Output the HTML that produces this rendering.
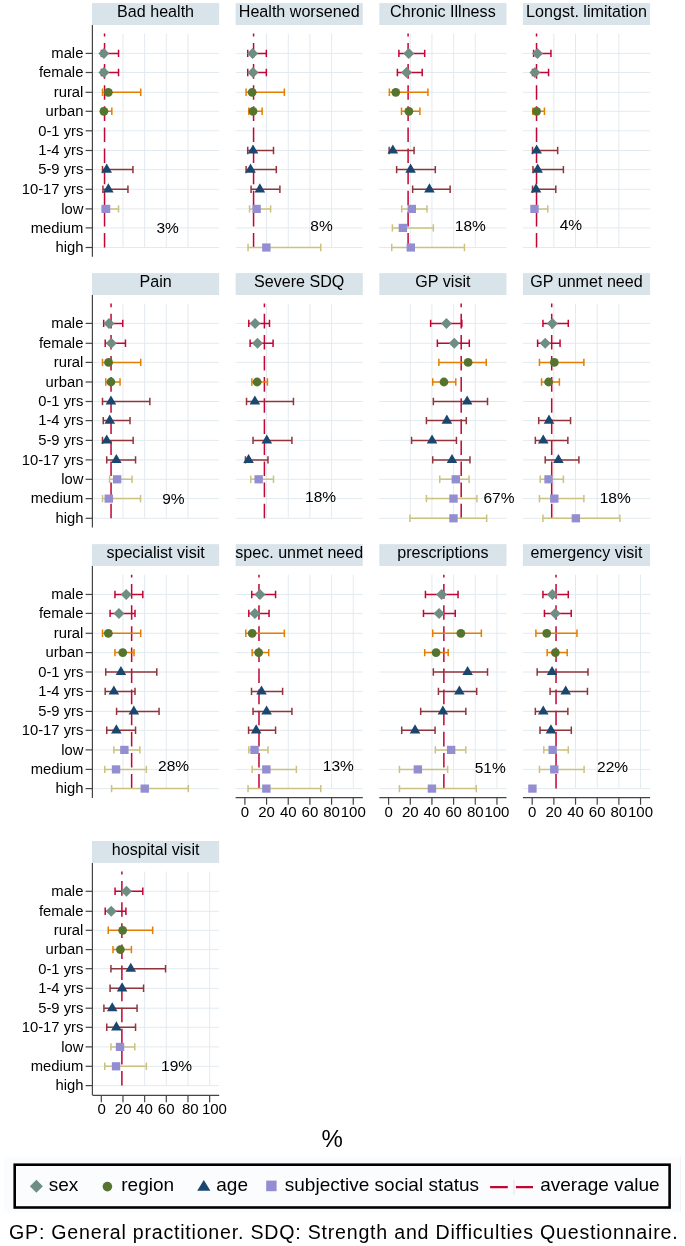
<!DOCTYPE html>
<html><head><meta charset="utf-8"><title>Chart</title>
<style>html,body{margin:0;padding:0;background:#fff;}svg{display:block;will-change:transform;}text{font-family:"Liberation Sans",sans-serif;fill:#000;}</style>
</head><body>
<svg width="685" height="1246" viewBox="0 0 685 1246">
<rect width="685" height="1246" fill="#fff"/>
<rect x="92" y="3.1" width="127.2" height="21.9" fill="#d9e4ea"/>
<text x="155.6" y="17.4" font-size="17.1" text-anchor="middle" textLength="76.99" lengthAdjust="spacingAndGlyphs">Bad health</text>
<line x1="92" y1="53.4" x2="219.2" y2="53.4" stroke="#e3eaef" stroke-width="1"/>
<line x1="92" y1="72.5" x2="219.2" y2="72.5" stroke="#e3eaef" stroke-width="1"/>
<line x1="92" y1="92.3" x2="219.2" y2="92.3" stroke="#e3eaef" stroke-width="1"/>
<line x1="92" y1="111.3" x2="219.2" y2="111.3" stroke="#e3eaef" stroke-width="1"/>
<line x1="92" y1="130.8" x2="219.2" y2="130.8" stroke="#e3eaef" stroke-width="1"/>
<line x1="92" y1="150.5" x2="219.2" y2="150.5" stroke="#e3eaef" stroke-width="1"/>
<line x1="92" y1="169.6" x2="219.2" y2="169.6" stroke="#e3eaef" stroke-width="1"/>
<line x1="92" y1="189.3" x2="219.2" y2="189.3" stroke="#e3eaef" stroke-width="1"/>
<line x1="92" y1="208.9" x2="219.2" y2="208.9" stroke="#e3eaef" stroke-width="1"/>
<line x1="92" y1="227.9" x2="219.2" y2="227.9" stroke="#e3eaef" stroke-width="1"/>
<line x1="92" y1="247.5" x2="219.2" y2="247.5" stroke="#e3eaef" stroke-width="1"/>
<line x1="122.97" y1="33.6" x2="122.97" y2="247.5" stroke="#e3eaef" stroke-width="1"/>
<line x1="144.64" y1="33.6" x2="144.64" y2="247.5" stroke="#e3eaef" stroke-width="1"/>
<line x1="166.31" y1="33.6" x2="166.31" y2="247.5" stroke="#e3eaef" stroke-width="1"/>
<line x1="187.98" y1="33.6" x2="187.98" y2="247.5" stroke="#e3eaef" stroke-width="1"/>
<line x1="104.55" y1="247.5" x2="104.55" y2="33.6" stroke="#c10534" stroke-width="1.5" stroke-dasharray="14.6 6.5"/>
<path d="M101.41 53.4H118.53M101.41 49.7V57.1M118.53 49.7V57.1" stroke="#c10534" stroke-width="1.5" fill="none"/>
<path d="M101.41 72.5H118.53M101.41 68.8V76.2M118.53 68.8V76.2" stroke="#c10534" stroke-width="1.5" fill="none"/>
<path d="M102.49 92.3H140.74M102.49 88.6V96M140.74 88.6V96" stroke="#e37e00" stroke-width="1.5" fill="none"/>
<path d="M101.84 111.3H111.81M101.84 107.6V115M111.81 107.6V115" stroke="#e37e00" stroke-width="1.5" fill="none"/>
<path d="M102.49 169.6H132.94M102.49 165.9V173.3M132.94 165.9V173.3" stroke="#90353b" stroke-width="1.5" fill="none"/>
<path d="M102.93 189.3H127.95M102.93 185.6V193M127.95 185.6V193" stroke="#90353b" stroke-width="1.5" fill="none"/>
<path d="M101.84 208.9H118.53M101.84 205.2V212.6M118.53 205.2V212.6" stroke="#cac27e" stroke-width="1.5" fill="none"/>
<path d="M103.9 47.9L109.4 53.4L103.9 58.9L98.4 53.4Z" fill="#6e8e84"/>
<path d="M103.9 67L109.4 72.5L103.9 78L98.4 72.5Z" fill="#6e8e84"/>
<circle cx="108.34" cy="92.3" r="4.4" fill="#55752f"/>
<circle cx="103.9" cy="111.3" r="4.4" fill="#55752f"/>
<path d="M106.72 163.6L112.02 172.7L101.42 172.7Z" fill="#1a476f"/>
<path d="M108.34 183.3L113.64 192.4L103.04 192.4Z" fill="#1a476f"/>
<rect x="101.87" y="204.8" width="8.4" height="8.2" fill="#938dd2"/>
<text x="156.51" y="232.65" font-size="15.4" textLength="22.4" lengthAdjust="spacingAndGlyphs">3%</text>
<line x1="92.4" y1="25" x2="92.4" y2="256.8" stroke="#444" stroke-width="1.2"/>
<line x1="85.6" y1="53.4" x2="92.4" y2="53.4" stroke="#444" stroke-width="1.2"/>
<text x="83.4" y="58.25" font-size="15.4" text-anchor="end" textLength="32.08" lengthAdjust="spacingAndGlyphs">male</text>
<line x1="85.6" y1="72.5" x2="92.4" y2="72.5" stroke="#444" stroke-width="1.2"/>
<text x="83.4" y="77.35" font-size="15.4" text-anchor="end" textLength="44.42" lengthAdjust="spacingAndGlyphs">female</text>
<line x1="85.6" y1="92.3" x2="92.4" y2="92.3" stroke="#444" stroke-width="1.2"/>
<text x="83.4" y="97.15" font-size="15.4" text-anchor="end" textLength="29.61" lengthAdjust="spacingAndGlyphs">rural</text>
<line x1="85.6" y1="111.3" x2="92.4" y2="111.3" stroke="#444" stroke-width="1.2"/>
<text x="83.4" y="116.15" font-size="15.4" text-anchor="end" textLength="37.85" lengthAdjust="spacingAndGlyphs">urban</text>
<line x1="85.6" y1="130.8" x2="92.4" y2="130.8" stroke="#444" stroke-width="1.2"/>
<text x="83.4" y="135.65" font-size="15.4" text-anchor="end" textLength="45.23" lengthAdjust="spacingAndGlyphs">0-1 yrs</text>
<line x1="85.6" y1="150.5" x2="92.4" y2="150.5" stroke="#444" stroke-width="1.2"/>
<text x="83.4" y="155.35" font-size="15.4" text-anchor="end" textLength="45.23" lengthAdjust="spacingAndGlyphs">1-4 yrs</text>
<line x1="85.6" y1="169.6" x2="92.4" y2="169.6" stroke="#444" stroke-width="1.2"/>
<text x="83.4" y="174.45" font-size="15.4" text-anchor="end" textLength="45.23" lengthAdjust="spacingAndGlyphs">5-9 yrs</text>
<line x1="85.6" y1="189.3" x2="92.4" y2="189.3" stroke="#444" stroke-width="1.2"/>
<text x="83.4" y="194.15" font-size="15.4" text-anchor="end" textLength="61.69" lengthAdjust="spacingAndGlyphs">10-17 yrs</text>
<line x1="85.6" y1="208.9" x2="92.4" y2="208.9" stroke="#444" stroke-width="1.2"/>
<text x="83.4" y="213.75" font-size="15.4" text-anchor="end" textLength="22.21" lengthAdjust="spacingAndGlyphs">low</text>
<line x1="85.6" y1="227.9" x2="92.4" y2="227.9" stroke="#444" stroke-width="1.2"/>
<text x="83.4" y="232.75" font-size="15.4" text-anchor="end" textLength="52.64" lengthAdjust="spacingAndGlyphs">medium</text>
<line x1="85.6" y1="247.5" x2="92.4" y2="247.5" stroke="#444" stroke-width="1.2"/>
<text x="83.4" y="252.35" font-size="15.4" text-anchor="end" textLength="27.98" lengthAdjust="spacingAndGlyphs">high</text>
<rect x="235.6" y="3.1" width="127.2" height="21.9" fill="#d9e4ea"/>
<text x="299.2" y="17.4" font-size="17.1" text-anchor="middle" textLength="120.82" lengthAdjust="spacingAndGlyphs">Health worsened</text>
<line x1="235.6" y1="53.4" x2="362.8" y2="53.4" stroke="#e3eaef" stroke-width="1"/>
<line x1="235.6" y1="72.5" x2="362.8" y2="72.5" stroke="#e3eaef" stroke-width="1"/>
<line x1="235.6" y1="92.3" x2="362.8" y2="92.3" stroke="#e3eaef" stroke-width="1"/>
<line x1="235.6" y1="111.3" x2="362.8" y2="111.3" stroke="#e3eaef" stroke-width="1"/>
<line x1="235.6" y1="130.8" x2="362.8" y2="130.8" stroke="#e3eaef" stroke-width="1"/>
<line x1="235.6" y1="150.5" x2="362.8" y2="150.5" stroke="#e3eaef" stroke-width="1"/>
<line x1="235.6" y1="169.6" x2="362.8" y2="169.6" stroke="#e3eaef" stroke-width="1"/>
<line x1="235.6" y1="189.3" x2="362.8" y2="189.3" stroke="#e3eaef" stroke-width="1"/>
<line x1="235.6" y1="208.9" x2="362.8" y2="208.9" stroke="#e3eaef" stroke-width="1"/>
<line x1="235.6" y1="227.9" x2="362.8" y2="227.9" stroke="#e3eaef" stroke-width="1"/>
<line x1="235.6" y1="247.5" x2="362.8" y2="247.5" stroke="#e3eaef" stroke-width="1"/>
<line x1="266.57" y1="33.6" x2="266.57" y2="247.5" stroke="#e3eaef" stroke-width="1"/>
<line x1="288.24" y1="33.6" x2="288.24" y2="247.5" stroke="#e3eaef" stroke-width="1"/>
<line x1="309.91" y1="33.6" x2="309.91" y2="247.5" stroke="#e3eaef" stroke-width="1"/>
<line x1="331.58" y1="33.6" x2="331.58" y2="247.5" stroke="#e3eaef" stroke-width="1"/>
<line x1="253.57" y1="247.5" x2="253.57" y2="33.6" stroke="#c10534" stroke-width="1.5" stroke-dasharray="14.6 6.5"/>
<path d="M247.72 53.4H266.35M247.72 49.7V57.1M266.35 49.7V57.1" stroke="#c10534" stroke-width="1.5" fill="none"/>
<path d="M247.72 72.5H266.35M247.72 68.8V76.2M266.35 68.8V76.2" stroke="#c10534" stroke-width="1.5" fill="none"/>
<path d="M246.09 92.3H284.34M246.09 88.6V96M284.34 88.6V96" stroke="#e37e00" stroke-width="1.5" fill="none"/>
<path d="M248.8 111.3H262.13M248.8 107.6V115M262.13 107.6V115" stroke="#e37e00" stroke-width="1.5" fill="none"/>
<path d="M247.72 150.5H273.5M247.72 146.8V154.2M273.5 146.8V154.2" stroke="#90353b" stroke-width="1.5" fill="none"/>
<path d="M246.09 169.6H276.32M246.09 165.9V173.3M276.32 165.9V173.3" stroke="#90353b" stroke-width="1.5" fill="none"/>
<path d="M251.08 189.3H279.9M251.08 185.6V193M279.9 185.6V193" stroke="#90353b" stroke-width="1.5" fill="none"/>
<path d="M249.56 208.9H270.58M249.56 205.2V212.6M270.58 205.2V212.6" stroke="#cac27e" stroke-width="1.5" fill="none"/>
<path d="M248.04 247.5H320.75M248.04 243.8V251.2M320.75 243.8V251.2" stroke="#cac27e" stroke-width="1.5" fill="none"/>
<path d="M252.59 47.9L258.09 53.4L252.59 58.9L247.09 53.4Z" fill="#6e8e84"/>
<path d="M253.03 67L258.53 72.5L253.03 78L247.53 72.5Z" fill="#6e8e84"/>
<circle cx="252.16" cy="92.3" r="4.4" fill="#55752f"/>
<circle cx="253.03" cy="111.3" r="4.4" fill="#55752f"/>
<path d="M253.03 144.5L258.33 153.6L247.73 153.6Z" fill="#1a476f"/>
<path d="M250.53 163.6L255.83 172.7L245.23 172.7Z" fill="#1a476f"/>
<path d="M259.85 183.3L265.15 192.4L254.55 192.4Z" fill="#1a476f"/>
<rect x="252.4" y="204.8" width="8.4" height="8.2" fill="#938dd2"/>
<rect x="262.15" y="243.4" width="8.4" height="8.2" fill="#938dd2"/>
<text x="310.34" y="230.75" font-size="15.4" textLength="22.4" lengthAdjust="spacingAndGlyphs">8%</text>
<rect x="379.3" y="3.1" width="127.2" height="21.9" fill="#d9e4ea"/>
<text x="442.9" y="17.4" font-size="17.1" text-anchor="middle" textLength="105.59" lengthAdjust="spacingAndGlyphs">Chronic Illness</text>
<line x1="379.3" y1="53.4" x2="506.5" y2="53.4" stroke="#e3eaef" stroke-width="1"/>
<line x1="379.3" y1="72.5" x2="506.5" y2="72.5" stroke="#e3eaef" stroke-width="1"/>
<line x1="379.3" y1="92.3" x2="506.5" y2="92.3" stroke="#e3eaef" stroke-width="1"/>
<line x1="379.3" y1="111.3" x2="506.5" y2="111.3" stroke="#e3eaef" stroke-width="1"/>
<line x1="379.3" y1="130.8" x2="506.5" y2="130.8" stroke="#e3eaef" stroke-width="1"/>
<line x1="379.3" y1="150.5" x2="506.5" y2="150.5" stroke="#e3eaef" stroke-width="1"/>
<line x1="379.3" y1="169.6" x2="506.5" y2="169.6" stroke="#e3eaef" stroke-width="1"/>
<line x1="379.3" y1="189.3" x2="506.5" y2="189.3" stroke="#e3eaef" stroke-width="1"/>
<line x1="379.3" y1="208.9" x2="506.5" y2="208.9" stroke="#e3eaef" stroke-width="1"/>
<line x1="379.3" y1="227.9" x2="506.5" y2="227.9" stroke="#e3eaef" stroke-width="1"/>
<line x1="379.3" y1="247.5" x2="506.5" y2="247.5" stroke="#e3eaef" stroke-width="1"/>
<line x1="410.27" y1="33.6" x2="410.27" y2="247.5" stroke="#e3eaef" stroke-width="1"/>
<line x1="431.94" y1="33.6" x2="431.94" y2="247.5" stroke="#e3eaef" stroke-width="1"/>
<line x1="453.61" y1="33.6" x2="453.61" y2="247.5" stroke="#e3eaef" stroke-width="1"/>
<line x1="475.28" y1="33.6" x2="475.28" y2="247.5" stroke="#e3eaef" stroke-width="1"/>
<line x1="408.1" y1="247.5" x2="408.1" y2="33.6" stroke="#c10534" stroke-width="1.5" stroke-dasharray="14.6 6.5"/>
<path d="M398.89 53.4H424.68M398.89 49.7V57.1M424.68 49.7V57.1" stroke="#c10534" stroke-width="1.5" fill="none"/>
<path d="M397.38 72.5H422.19M397.38 68.8V76.2M422.19 68.8V76.2" stroke="#c10534" stroke-width="1.5" fill="none"/>
<path d="M389.36 92.3H427.93M389.36 88.6V96M427.93 88.6V96" stroke="#e37e00" stroke-width="1.5" fill="none"/>
<path d="M401.49 111.3H419.91M401.49 107.6V115M419.91 107.6V115" stroke="#e37e00" stroke-width="1.5" fill="none"/>
<path d="M389.14 150.5H414.06M389.14 146.8V154.2M414.06 146.8V154.2" stroke="#90353b" stroke-width="1.5" fill="none"/>
<path d="M396.62 169.6H435.3M396.62 165.9V173.3M435.3 165.9V173.3" stroke="#90353b" stroke-width="1.5" fill="none"/>
<path d="M412.65 189.3H450.14M412.65 185.6V193M450.14 185.6V193" stroke="#90353b" stroke-width="1.5" fill="none"/>
<path d="M401.71 208.9H426.96M401.71 205.2V212.6M426.96 205.2V212.6" stroke="#cac27e" stroke-width="1.5" fill="none"/>
<path d="M392.39 227.9H433.35M392.39 224.2V231.6M433.35 224.2V231.6" stroke="#cac27e" stroke-width="1.5" fill="none"/>
<path d="M391.74 247.5H464.45M391.74 243.8V251.2M464.45 243.8V251.2" stroke="#cac27e" stroke-width="1.5" fill="none"/>
<path d="M408.75 47.9L414.25 53.4L408.75 58.9L403.25 53.4Z" fill="#6e8e84"/>
<path d="M406.48 67L411.98 72.5L406.48 78L400.98 72.5Z" fill="#6e8e84"/>
<circle cx="395.75" cy="92.3" r="4.4" fill="#55752f"/>
<circle cx="408.86" cy="111.3" r="4.4" fill="#55752f"/>
<path d="M392.83 144.5L398.13 153.6L387.53 153.6Z" fill="#1a476f"/>
<path d="M410.6 163.6L415.9 172.7L405.3 172.7Z" fill="#1a476f"/>
<path d="M429.45 183.3L434.75 192.4L424.15 192.4Z" fill="#1a476f"/>
<rect x="407.59" y="204.8" width="8.4" height="8.2" fill="#938dd2"/>
<rect x="398.7" y="223.8" width="8.4" height="8.2" fill="#938dd2"/>
<rect x="406.61" y="243.4" width="8.4" height="8.2" fill="#938dd2"/>
<text x="454.83" y="230.65" font-size="15.4" textLength="31.02" lengthAdjust="spacingAndGlyphs">18%</text>
<rect x="522.9" y="3.1" width="127.2" height="21.9" fill="#d9e4ea"/>
<text x="586.5" y="17.4" font-size="17.1" text-anchor="middle" textLength="120.81" lengthAdjust="spacingAndGlyphs">Longst. limitation</text>
<line x1="522.9" y1="53.4" x2="650.1" y2="53.4" stroke="#e3eaef" stroke-width="1"/>
<line x1="522.9" y1="72.5" x2="650.1" y2="72.5" stroke="#e3eaef" stroke-width="1"/>
<line x1="522.9" y1="92.3" x2="650.1" y2="92.3" stroke="#e3eaef" stroke-width="1"/>
<line x1="522.9" y1="111.3" x2="650.1" y2="111.3" stroke="#e3eaef" stroke-width="1"/>
<line x1="522.9" y1="130.8" x2="650.1" y2="130.8" stroke="#e3eaef" stroke-width="1"/>
<line x1="522.9" y1="150.5" x2="650.1" y2="150.5" stroke="#e3eaef" stroke-width="1"/>
<line x1="522.9" y1="169.6" x2="650.1" y2="169.6" stroke="#e3eaef" stroke-width="1"/>
<line x1="522.9" y1="189.3" x2="650.1" y2="189.3" stroke="#e3eaef" stroke-width="1"/>
<line x1="522.9" y1="208.9" x2="650.1" y2="208.9" stroke="#e3eaef" stroke-width="1"/>
<line x1="522.9" y1="227.9" x2="650.1" y2="227.9" stroke="#e3eaef" stroke-width="1"/>
<line x1="522.9" y1="247.5" x2="650.1" y2="247.5" stroke="#e3eaef" stroke-width="1"/>
<line x1="553.87" y1="33.6" x2="553.87" y2="247.5" stroke="#e3eaef" stroke-width="1"/>
<line x1="575.54" y1="33.6" x2="575.54" y2="247.5" stroke="#e3eaef" stroke-width="1"/>
<line x1="597.21" y1="33.6" x2="597.21" y2="247.5" stroke="#e3eaef" stroke-width="1"/>
<line x1="618.88" y1="33.6" x2="618.88" y2="247.5" stroke="#e3eaef" stroke-width="1"/>
<line x1="536.53" y1="247.5" x2="536.53" y2="33.6" stroke="#c10534" stroke-width="1.5" stroke-dasharray="14.6 6.5"/>
<path d="M533.61 53.4H550.94M533.61 49.7V57.1M550.94 49.7V57.1" stroke="#c10534" stroke-width="1.5" fill="none"/>
<path d="M532.53 72.5H548.56M532.53 68.8V76.2M548.56 68.8V76.2" stroke="#c10534" stroke-width="1.5" fill="none"/>
<path d="M532.74 111.3H544.44M532.74 107.6V115M544.44 107.6V115" stroke="#e37e00" stroke-width="1.5" fill="none"/>
<path d="M532.53 150.5H557.66M532.53 146.8V154.2M557.66 146.8V154.2" stroke="#90353b" stroke-width="1.5" fill="none"/>
<path d="M532.96 169.6H563.4M532.96 165.9V173.3M563.4 165.9V173.3" stroke="#90353b" stroke-width="1.5" fill="none"/>
<path d="M532.53 189.3H555.82M532.53 185.6V193M555.82 185.6V193" stroke="#90353b" stroke-width="1.5" fill="none"/>
<path d="M532.42 208.9H547.8M532.42 205.2V212.6M547.8 205.2V212.6" stroke="#cac27e" stroke-width="1.5" fill="none"/>
<path d="M537.51 47.9L543.01 53.4L537.51 58.9L532.01 53.4Z" fill="#6e8e84"/>
<path d="M534.91 67L540.41 72.5L534.91 78L529.41 72.5Z" fill="#6e8e84"/>
<circle cx="536.64" cy="111.3" r="4.4" fill="#55752f"/>
<path d="M536.64 144.5L541.94 153.6L531.34 153.6Z" fill="#1a476f"/>
<path d="M537.62 163.6L542.92 172.7L532.32 172.7Z" fill="#1a476f"/>
<path d="M535.99 183.3L541.29 192.4L530.69 192.4Z" fill="#1a476f"/>
<rect x="530.28" y="204.8" width="8.4" height="8.2" fill="#938dd2"/>
<text x="559.65" y="230.15" font-size="15.4" textLength="22.4" lengthAdjust="spacingAndGlyphs">4%</text>
<rect x="92" y="273.1" width="127.2" height="21.9" fill="#d9e4ea"/>
<text x="155.6" y="287.4" font-size="17.1" text-anchor="middle" textLength="32.22" lengthAdjust="spacingAndGlyphs">Pain</text>
<line x1="92" y1="323.4" x2="219.2" y2="323.4" stroke="#e3eaef" stroke-width="1"/>
<line x1="92" y1="343.3" x2="219.2" y2="343.3" stroke="#e3eaef" stroke-width="1"/>
<line x1="92" y1="362.4" x2="219.2" y2="362.4" stroke="#e3eaef" stroke-width="1"/>
<line x1="92" y1="382" x2="219.2" y2="382" stroke="#e3eaef" stroke-width="1"/>
<line x1="92" y1="401.5" x2="219.2" y2="401.5" stroke="#e3eaef" stroke-width="1"/>
<line x1="92" y1="420.6" x2="219.2" y2="420.6" stroke="#e3eaef" stroke-width="1"/>
<line x1="92" y1="440.4" x2="219.2" y2="440.4" stroke="#e3eaef" stroke-width="1"/>
<line x1="92" y1="459.9" x2="219.2" y2="459.9" stroke="#e3eaef" stroke-width="1"/>
<line x1="92" y1="479.3" x2="219.2" y2="479.3" stroke="#e3eaef" stroke-width="1"/>
<line x1="92" y1="498.6" x2="219.2" y2="498.6" stroke="#e3eaef" stroke-width="1"/>
<line x1="92" y1="518.3" x2="219.2" y2="518.3" stroke="#e3eaef" stroke-width="1"/>
<line x1="122.97" y1="303.6" x2="122.97" y2="518.3" stroke="#e3eaef" stroke-width="1"/>
<line x1="144.64" y1="303.6" x2="144.64" y2="518.3" stroke="#e3eaef" stroke-width="1"/>
<line x1="166.31" y1="303.6" x2="166.31" y2="518.3" stroke="#e3eaef" stroke-width="1"/>
<line x1="187.98" y1="303.6" x2="187.98" y2="518.3" stroke="#e3eaef" stroke-width="1"/>
<line x1="111.05" y1="518.3" x2="111.05" y2="303.6" stroke="#c10534" stroke-width="1.5" stroke-dasharray="14.6 6.5"/>
<path d="M103.68 323.4H122.75M103.68 319.7V327.1M122.75 319.7V327.1" stroke="#c10534" stroke-width="1.5" fill="none"/>
<path d="M105.2 343.3H125.46M105.2 339.6V347M125.46 339.6V347" stroke="#c10534" stroke-width="1.5" fill="none"/>
<path d="M102.49 362.4H140.74M102.49 358.7V366.1M140.74 358.7V366.1" stroke="#e37e00" stroke-width="1.5" fill="none"/>
<path d="M105.74 382H120.04M105.74 378.3V385.7M120.04 378.3V385.7" stroke="#e37e00" stroke-width="1.5" fill="none"/>
<path d="M102.49 401.5H149.84M102.49 397.8V405.2M149.84 397.8V405.2" stroke="#90353b" stroke-width="1.5" fill="none"/>
<path d="M103.25 420.6H130.01M103.25 416.9V424.3M130.01 416.9V424.3" stroke="#90353b" stroke-width="1.5" fill="none"/>
<path d="M102.49 440.4H133.15M102.49 436.7V444.1M133.15 436.7V444.1" stroke="#90353b" stroke-width="1.5" fill="none"/>
<path d="M106.72 459.9H135.54M106.72 456.2V463.6M135.54 456.2V463.6" stroke="#90353b" stroke-width="1.5" fill="none"/>
<path d="M109.53 479.3H132.07M109.53 475.6V483M132.07 475.6V483" stroke="#cac27e" stroke-width="1.5" fill="none"/>
<path d="M102.49 498.6H140.52M102.49 494.9V502.3M140.52 494.9V502.3" stroke="#cac27e" stroke-width="1.5" fill="none"/>
<path d="M108.99 317.9L114.49 323.4L108.99 328.9L103.49 323.4Z" fill="#6e8e84"/>
<path d="M111.27 337.8L116.77 343.3L111.27 348.8L105.77 343.3Z" fill="#6e8e84"/>
<circle cx="108.56" cy="362.4" r="4.4" fill="#55752f"/>
<circle cx="110.94" cy="382" r="4.4" fill="#55752f"/>
<path d="M110.94 395.5L116.24 404.6L105.64 404.6Z" fill="#1a476f"/>
<path d="M109.75 414.6L115.05 423.7L104.45 423.7Z" fill="#1a476f"/>
<path d="M106.72 434.4L112.02 443.5L101.42 443.5Z" fill="#1a476f"/>
<path d="M116.36 453.9L121.66 463L111.06 463Z" fill="#1a476f"/>
<rect x="112.92" y="475.2" width="8.4" height="8.2" fill="#938dd2"/>
<rect x="104.58" y="494.5" width="8.4" height="8.2" fill="#938dd2"/>
<text x="162.18" y="503.85" font-size="15.4" textLength="22.4" lengthAdjust="spacingAndGlyphs">9%</text>
<line x1="92.4" y1="295" x2="92.4" y2="527.6" stroke="#444" stroke-width="1.2"/>
<line x1="85.6" y1="323.4" x2="92.4" y2="323.4" stroke="#444" stroke-width="1.2"/>
<text x="83.4" y="328.25" font-size="15.4" text-anchor="end" textLength="32.08" lengthAdjust="spacingAndGlyphs">male</text>
<line x1="85.6" y1="343.3" x2="92.4" y2="343.3" stroke="#444" stroke-width="1.2"/>
<text x="83.4" y="348.15" font-size="15.4" text-anchor="end" textLength="44.42" lengthAdjust="spacingAndGlyphs">female</text>
<line x1="85.6" y1="362.4" x2="92.4" y2="362.4" stroke="#444" stroke-width="1.2"/>
<text x="83.4" y="367.25" font-size="15.4" text-anchor="end" textLength="29.61" lengthAdjust="spacingAndGlyphs">rural</text>
<line x1="85.6" y1="382" x2="92.4" y2="382" stroke="#444" stroke-width="1.2"/>
<text x="83.4" y="386.85" font-size="15.4" text-anchor="end" textLength="37.85" lengthAdjust="spacingAndGlyphs">urban</text>
<line x1="85.6" y1="401.5" x2="92.4" y2="401.5" stroke="#444" stroke-width="1.2"/>
<text x="83.4" y="406.35" font-size="15.4" text-anchor="end" textLength="45.23" lengthAdjust="spacingAndGlyphs">0-1 yrs</text>
<line x1="85.6" y1="420.6" x2="92.4" y2="420.6" stroke="#444" stroke-width="1.2"/>
<text x="83.4" y="425.45" font-size="15.4" text-anchor="end" textLength="45.23" lengthAdjust="spacingAndGlyphs">1-4 yrs</text>
<line x1="85.6" y1="440.4" x2="92.4" y2="440.4" stroke="#444" stroke-width="1.2"/>
<text x="83.4" y="445.25" font-size="15.4" text-anchor="end" textLength="45.23" lengthAdjust="spacingAndGlyphs">5-9 yrs</text>
<line x1="85.6" y1="459.9" x2="92.4" y2="459.9" stroke="#444" stroke-width="1.2"/>
<text x="83.4" y="464.75" font-size="15.4" text-anchor="end" textLength="61.69" lengthAdjust="spacingAndGlyphs">10-17 yrs</text>
<line x1="85.6" y1="479.3" x2="92.4" y2="479.3" stroke="#444" stroke-width="1.2"/>
<text x="83.4" y="484.15" font-size="15.4" text-anchor="end" textLength="22.21" lengthAdjust="spacingAndGlyphs">low</text>
<line x1="85.6" y1="498.6" x2="92.4" y2="498.6" stroke="#444" stroke-width="1.2"/>
<text x="83.4" y="503.45" font-size="15.4" text-anchor="end" textLength="52.64" lengthAdjust="spacingAndGlyphs">medium</text>
<line x1="85.6" y1="518.3" x2="92.4" y2="518.3" stroke="#444" stroke-width="1.2"/>
<text x="83.4" y="523.15" font-size="15.4" text-anchor="end" textLength="27.98" lengthAdjust="spacingAndGlyphs">high</text>
<rect x="235.6" y="273.1" width="127.2" height="21.9" fill="#d9e4ea"/>
<text x="299.2" y="287.4" font-size="17.1" text-anchor="middle" textLength="90.37" lengthAdjust="spacingAndGlyphs">Severe SDQ</text>
<line x1="235.6" y1="323.4" x2="362.8" y2="323.4" stroke="#e3eaef" stroke-width="1"/>
<line x1="235.6" y1="343.3" x2="362.8" y2="343.3" stroke="#e3eaef" stroke-width="1"/>
<line x1="235.6" y1="362.4" x2="362.8" y2="362.4" stroke="#e3eaef" stroke-width="1"/>
<line x1="235.6" y1="382" x2="362.8" y2="382" stroke="#e3eaef" stroke-width="1"/>
<line x1="235.6" y1="401.5" x2="362.8" y2="401.5" stroke="#e3eaef" stroke-width="1"/>
<line x1="235.6" y1="420.6" x2="362.8" y2="420.6" stroke="#e3eaef" stroke-width="1"/>
<line x1="235.6" y1="440.4" x2="362.8" y2="440.4" stroke="#e3eaef" stroke-width="1"/>
<line x1="235.6" y1="459.9" x2="362.8" y2="459.9" stroke="#e3eaef" stroke-width="1"/>
<line x1="235.6" y1="479.3" x2="362.8" y2="479.3" stroke="#e3eaef" stroke-width="1"/>
<line x1="235.6" y1="498.6" x2="362.8" y2="498.6" stroke="#e3eaef" stroke-width="1"/>
<line x1="235.6" y1="518.3" x2="362.8" y2="518.3" stroke="#e3eaef" stroke-width="1"/>
<line x1="266.57" y1="303.6" x2="266.57" y2="518.3" stroke="#e3eaef" stroke-width="1"/>
<line x1="288.24" y1="303.6" x2="288.24" y2="518.3" stroke="#e3eaef" stroke-width="1"/>
<line x1="309.91" y1="303.6" x2="309.91" y2="518.3" stroke="#e3eaef" stroke-width="1"/>
<line x1="331.58" y1="303.6" x2="331.58" y2="518.3" stroke="#e3eaef" stroke-width="1"/>
<line x1="264.4" y1="518.3" x2="264.4" y2="303.6" stroke="#c10534" stroke-width="1.5" stroke-dasharray="14.6 6.5"/>
<path d="M248.8 323.4H269.5M248.8 319.7V327.1M269.5 319.7V327.1" stroke="#c10534" stroke-width="1.5" fill="none"/>
<path d="M250.1 343.3H273.07M250.1 339.6V347M273.07 339.6V347" stroke="#c10534" stroke-width="1.5" fill="none"/>
<path d="M251.83 382H267.44M251.83 378.3V385.7M267.44 378.3V385.7" stroke="#e37e00" stroke-width="1.5" fill="none"/>
<path d="M246.53 401.5H293.44M246.53 397.8V405.2M293.44 397.8V405.2" stroke="#90353b" stroke-width="1.5" fill="none"/>
<path d="M253.03 440.4H291.92M253.03 436.7V444.1M291.92 436.7V444.1" stroke="#90353b" stroke-width="1.5" fill="none"/>
<path d="M245.44 459.9H267.98M245.44 456.2V463.6M267.98 456.2V463.6" stroke="#90353b" stroke-width="1.5" fill="none"/>
<path d="M250.75 479.3H273.5M250.75 475.6V483M273.5 475.6V483" stroke="#cac27e" stroke-width="1.5" fill="none"/>
<path d="M255.08 317.9L260.58 323.4L255.08 328.9L249.58 323.4Z" fill="#6e8e84"/>
<path d="M257.47 337.8L262.97 343.3L257.47 348.8L251.97 343.3Z" fill="#6e8e84"/>
<circle cx="257.14" cy="382" r="4.4" fill="#55752f"/>
<path d="M254.87 395.5L260.17 404.6L249.57 404.6Z" fill="#1a476f"/>
<path d="M266.79 434.4L272.09 443.5L261.49 443.5Z" fill="#1a476f"/>
<path d="M248.58 453.9L253.88 463L243.28 463Z" fill="#1a476f"/>
<rect x="254.46" y="475.2" width="8.4" height="8.2" fill="#938dd2"/>
<text x="305.13" y="502.45" font-size="15.4" textLength="31.02" lengthAdjust="spacingAndGlyphs">18%</text>
<rect x="379.3" y="273.1" width="127.2" height="21.9" fill="#d9e4ea"/>
<text x="442.9" y="287.4" font-size="17.1" text-anchor="middle" textLength="55.17" lengthAdjust="spacingAndGlyphs">GP visit</text>
<line x1="379.3" y1="323.4" x2="506.5" y2="323.4" stroke="#e3eaef" stroke-width="1"/>
<line x1="379.3" y1="343.3" x2="506.5" y2="343.3" stroke="#e3eaef" stroke-width="1"/>
<line x1="379.3" y1="362.4" x2="506.5" y2="362.4" stroke="#e3eaef" stroke-width="1"/>
<line x1="379.3" y1="382" x2="506.5" y2="382" stroke="#e3eaef" stroke-width="1"/>
<line x1="379.3" y1="401.5" x2="506.5" y2="401.5" stroke="#e3eaef" stroke-width="1"/>
<line x1="379.3" y1="420.6" x2="506.5" y2="420.6" stroke="#e3eaef" stroke-width="1"/>
<line x1="379.3" y1="440.4" x2="506.5" y2="440.4" stroke="#e3eaef" stroke-width="1"/>
<line x1="379.3" y1="459.9" x2="506.5" y2="459.9" stroke="#e3eaef" stroke-width="1"/>
<line x1="379.3" y1="479.3" x2="506.5" y2="479.3" stroke="#e3eaef" stroke-width="1"/>
<line x1="379.3" y1="498.6" x2="506.5" y2="498.6" stroke="#e3eaef" stroke-width="1"/>
<line x1="379.3" y1="518.3" x2="506.5" y2="518.3" stroke="#e3eaef" stroke-width="1"/>
<line x1="410.27" y1="303.6" x2="410.27" y2="518.3" stroke="#e3eaef" stroke-width="1"/>
<line x1="431.94" y1="303.6" x2="431.94" y2="518.3" stroke="#e3eaef" stroke-width="1"/>
<line x1="453.61" y1="303.6" x2="453.61" y2="518.3" stroke="#e3eaef" stroke-width="1"/>
<line x1="475.28" y1="303.6" x2="475.28" y2="518.3" stroke="#e3eaef" stroke-width="1"/>
<line x1="461.19" y1="518.3" x2="461.19" y2="303.6" stroke="#c10534" stroke-width="1.5" stroke-dasharray="14.6 6.5"/>
<path d="M430.64 323.4H461.84M430.64 319.7V327.1M461.84 319.7V327.1" stroke="#c10534" stroke-width="1.5" fill="none"/>
<path d="M437.36 343.3H469.32M437.36 339.6V347M469.32 339.6V347" stroke="#c10534" stroke-width="1.5" fill="none"/>
<path d="M438.87 362.4H486.22M438.87 358.7V366.1M486.22 358.7V366.1" stroke="#e37e00" stroke-width="1.5" fill="none"/>
<path d="M432.7 382H455.78M432.7 378.3V385.7M455.78 378.3V385.7" stroke="#e37e00" stroke-width="1.5" fill="none"/>
<path d="M433.35 401.5H487.52M433.35 397.8V405.2M487.52 397.8V405.2" stroke="#90353b" stroke-width="1.5" fill="none"/>
<path d="M426.41 420.6H466.29M426.41 416.9V424.3M466.29 416.9V424.3" stroke="#90353b" stroke-width="1.5" fill="none"/>
<path d="M411.57 440.4H456.43M411.57 436.7V444.1M456.43 436.7V444.1" stroke="#90353b" stroke-width="1.5" fill="none"/>
<path d="M432.7 459.9H469.97M432.7 456.2V463.6M469.97 456.2V463.6" stroke="#90353b" stroke-width="1.5" fill="none"/>
<path d="M439.74 479.3H469.1M439.74 475.6V483M469.1 475.6V483" stroke="#cac27e" stroke-width="1.5" fill="none"/>
<path d="M426.41 498.6H476.91M426.41 494.9V502.3M476.91 494.9V502.3" stroke="#cac27e" stroke-width="1.5" fill="none"/>
<path d="M409.94 518.3H486.66M409.94 514.6V522M486.66 514.6V522" stroke="#cac27e" stroke-width="1.5" fill="none"/>
<path d="M446.46 317.9L451.96 323.4L446.46 328.9L440.96 323.4Z" fill="#6e8e84"/>
<path d="M454.26 337.8L459.76 343.3L454.26 348.8L448.76 343.3Z" fill="#6e8e84"/>
<circle cx="468.13" cy="362.4" r="4.4" fill="#55752f"/>
<circle cx="443.97" cy="382" r="4.4" fill="#55752f"/>
<path d="M467.15 395.5L472.45 404.6L461.85 404.6Z" fill="#1a476f"/>
<path d="M446.89 414.6L452.19 423.7L441.59 423.7Z" fill="#1a476f"/>
<path d="M432.05 434.4L437.35 443.5L426.75 443.5Z" fill="#1a476f"/>
<path d="M451.98 453.9L457.28 463L446.68 463Z" fill="#1a476f"/>
<rect x="451.58" y="475.2" width="8.4" height="8.2" fill="#938dd2"/>
<rect x="449.3" y="494.5" width="8.4" height="8.2" fill="#938dd2"/>
<rect x="449.3" y="514.2" width="8.4" height="8.2" fill="#938dd2"/>
<text x="483.41" y="502.75" font-size="15.4" textLength="31.02" lengthAdjust="spacingAndGlyphs">67%</text>
<rect x="522.9" y="273.1" width="127.2" height="21.9" fill="#d9e4ea"/>
<text x="586.5" y="287.4" font-size="17.1" text-anchor="middle" textLength="112.48" lengthAdjust="spacingAndGlyphs">GP unmet need</text>
<line x1="522.9" y1="323.4" x2="650.1" y2="323.4" stroke="#e3eaef" stroke-width="1"/>
<line x1="522.9" y1="343.3" x2="650.1" y2="343.3" stroke="#e3eaef" stroke-width="1"/>
<line x1="522.9" y1="362.4" x2="650.1" y2="362.4" stroke="#e3eaef" stroke-width="1"/>
<line x1="522.9" y1="382" x2="650.1" y2="382" stroke="#e3eaef" stroke-width="1"/>
<line x1="522.9" y1="401.5" x2="650.1" y2="401.5" stroke="#e3eaef" stroke-width="1"/>
<line x1="522.9" y1="420.6" x2="650.1" y2="420.6" stroke="#e3eaef" stroke-width="1"/>
<line x1="522.9" y1="440.4" x2="650.1" y2="440.4" stroke="#e3eaef" stroke-width="1"/>
<line x1="522.9" y1="459.9" x2="650.1" y2="459.9" stroke="#e3eaef" stroke-width="1"/>
<line x1="522.9" y1="479.3" x2="650.1" y2="479.3" stroke="#e3eaef" stroke-width="1"/>
<line x1="522.9" y1="498.6" x2="650.1" y2="498.6" stroke="#e3eaef" stroke-width="1"/>
<line x1="522.9" y1="518.3" x2="650.1" y2="518.3" stroke="#e3eaef" stroke-width="1"/>
<line x1="553.87" y1="303.6" x2="553.87" y2="518.3" stroke="#e3eaef" stroke-width="1"/>
<line x1="575.54" y1="303.6" x2="575.54" y2="518.3" stroke="#e3eaef" stroke-width="1"/>
<line x1="597.21" y1="303.6" x2="597.21" y2="518.3" stroke="#e3eaef" stroke-width="1"/>
<line x1="618.88" y1="303.6" x2="618.88" y2="518.3" stroke="#e3eaef" stroke-width="1"/>
<line x1="551.7" y1="518.3" x2="551.7" y2="303.6" stroke="#c10534" stroke-width="1.5" stroke-dasharray="14.6 6.5"/>
<path d="M542.93 323.4H568.28M542.93 319.7V327.1M568.28 319.7V327.1" stroke="#c10534" stroke-width="1.5" fill="none"/>
<path d="M537.62 343.3H560.05M537.62 339.6V347M560.05 339.6V347" stroke="#c10534" stroke-width="1.5" fill="none"/>
<path d="M539.46 362.4H583.88M539.46 358.7V366.1M583.88 358.7V366.1" stroke="#e37e00" stroke-width="1.5" fill="none"/>
<path d="M541.52 382H559.4M541.52 378.3V385.7M559.4 378.3V385.7" stroke="#e37e00" stroke-width="1.5" fill="none"/>
<path d="M538.7 420.6H570.56M538.7 416.9V424.3M570.56 416.9V424.3" stroke="#90353b" stroke-width="1.5" fill="none"/>
<path d="M535.34 440.4H567.85M535.34 436.7V444.1M567.85 436.7V444.1" stroke="#90353b" stroke-width="1.5" fill="none"/>
<path d="M545.2 459.9H578.9M545.2 456.2V463.6M578.9 456.2V463.6" stroke="#90353b" stroke-width="1.5" fill="none"/>
<path d="M540.22 479.3H563.4M540.22 475.6V483M563.4 475.6V483" stroke="#cac27e" stroke-width="1.5" fill="none"/>
<path d="M539.46 498.6H583.88M539.46 494.9V502.3M583.88 494.9V502.3" stroke="#cac27e" stroke-width="1.5" fill="none"/>
<path d="M542.93 518.3H619.86M542.93 514.6V522M619.86 514.6V522" stroke="#cac27e" stroke-width="1.5" fill="none"/>
<path d="M552.35 317.9L557.85 323.4L552.35 328.9L546.85 323.4Z" fill="#6e8e84"/>
<path d="M545.2 337.8L550.7 343.3L545.2 348.8L539.7 343.3Z" fill="#6e8e84"/>
<circle cx="554.3" cy="362.4" r="4.4" fill="#55752f"/>
<circle cx="548.56" cy="382" r="4.4" fill="#55752f"/>
<path d="M548.99 414.6L554.29 423.7L543.69 423.7Z" fill="#1a476f"/>
<path d="M543.25 434.4L548.55 443.5L537.95 443.5Z" fill="#1a476f"/>
<path d="M558.42 453.9L563.72 463L553.12 463Z" fill="#1a476f"/>
<rect x="544.36" y="475.2" width="8.4" height="8.2" fill="#938dd2"/>
<rect x="550.1" y="494.5" width="8.4" height="8.2" fill="#938dd2"/>
<rect x="571.67" y="514.2" width="8.4" height="8.2" fill="#938dd2"/>
<text x="599.73" y="503.05" font-size="15.4" textLength="31.02" lengthAdjust="spacingAndGlyphs">18%</text>
<rect x="92" y="544.15" width="127.2" height="21.9" fill="#d9e4ea"/>
<text x="155.6" y="558.45" font-size="17.1" text-anchor="middle" textLength="98.42" lengthAdjust="spacingAndGlyphs">specialist visit</text>
<line x1="92" y1="594.45" x2="219.2" y2="594.45" stroke="#e3eaef" stroke-width="1"/>
<line x1="92" y1="613.4" x2="219.2" y2="613.4" stroke="#e3eaef" stroke-width="1"/>
<line x1="92" y1="633.3" x2="219.2" y2="633.3" stroke="#e3eaef" stroke-width="1"/>
<line x1="92" y1="652.6" x2="219.2" y2="652.6" stroke="#e3eaef" stroke-width="1"/>
<line x1="92" y1="672" x2="219.2" y2="672" stroke="#e3eaef" stroke-width="1"/>
<line x1="92" y1="691.4" x2="219.2" y2="691.4" stroke="#e3eaef" stroke-width="1"/>
<line x1="92" y1="711.4" x2="219.2" y2="711.4" stroke="#e3eaef" stroke-width="1"/>
<line x1="92" y1="730.3" x2="219.2" y2="730.3" stroke="#e3eaef" stroke-width="1"/>
<line x1="92" y1="749.9" x2="219.2" y2="749.9" stroke="#e3eaef" stroke-width="1"/>
<line x1="92" y1="769.4" x2="219.2" y2="769.4" stroke="#e3eaef" stroke-width="1"/>
<line x1="92" y1="788.6" x2="219.2" y2="788.6" stroke="#e3eaef" stroke-width="1"/>
<line x1="122.97" y1="574.65" x2="122.97" y2="788.6" stroke="#e3eaef" stroke-width="1"/>
<line x1="144.64" y1="574.65" x2="144.64" y2="788.6" stroke="#e3eaef" stroke-width="1"/>
<line x1="166.31" y1="574.65" x2="166.31" y2="788.6" stroke="#e3eaef" stroke-width="1"/>
<line x1="187.98" y1="574.65" x2="187.98" y2="788.6" stroke="#e3eaef" stroke-width="1"/>
<line x1="131.64" y1="788.6" x2="131.64" y2="574.65" stroke="#c10534" stroke-width="1.5" stroke-dasharray="14.6 6.5"/>
<path d="M114.95 594.45H142.8M114.95 590.75V598.15M142.8 590.75V598.15" stroke="#c10534" stroke-width="1.5" fill="none"/>
<path d="M110.08 613.4H135M110.08 609.7V617.1M135 609.7V617.1" stroke="#c10534" stroke-width="1.5" fill="none"/>
<path d="M102.49 633.3H140.74M102.49 629.6V637M140.74 629.6V637" stroke="#e37e00" stroke-width="1.5" fill="none"/>
<path d="M114.95 652.6H134.02M114.95 648.9V656.3M134.02 648.9V656.3" stroke="#e37e00" stroke-width="1.5" fill="none"/>
<path d="M105.74 672H156.78M105.74 668.3V675.7M156.78 668.3V675.7" stroke="#90353b" stroke-width="1.5" fill="none"/>
<path d="M105.2 691.4H135M105.2 687.7V695.1M135 687.7V695.1" stroke="#90353b" stroke-width="1.5" fill="none"/>
<path d="M116.58 711.4H159.05M116.58 707.7V715.1M159.05 707.7V715.1" stroke="#90353b" stroke-width="1.5" fill="none"/>
<path d="M106.72 730.3H135.54M106.72 726.6V734M135.54 726.6V734" stroke="#90353b" stroke-width="1.5" fill="none"/>
<path d="M113.87 749.9H139.87M113.87 746.2V753.6M139.87 746.2V753.6" stroke="#cac27e" stroke-width="1.5" fill="none"/>
<path d="M104.77 769.4H146.37M104.77 765.7V773.1M146.37 765.7V773.1" stroke="#cac27e" stroke-width="1.5" fill="none"/>
<path d="M111.59 788.6H188.31M111.59 784.9V792.3M188.31 784.9V792.3" stroke="#cac27e" stroke-width="1.5" fill="none"/>
<path d="M126.22 588.95L131.72 594.45L126.22 599.95L120.72 594.45Z" fill="#6e8e84"/>
<path d="M118.96 607.9L124.46 613.4L118.96 618.9L113.46 613.4Z" fill="#6e8e84"/>
<circle cx="108.34" cy="633.3" r="4.4" fill="#55752f"/>
<circle cx="122.75" cy="652.6" r="4.4" fill="#55752f"/>
<path d="M120.91 666L126.21 675.1L115.61 675.1Z" fill="#1a476f"/>
<path d="M113.87 685.4L119.17 694.5L108.57 694.5Z" fill="#1a476f"/>
<path d="M133.81 705.4L139.11 714.5L128.5 714.5Z" fill="#1a476f"/>
<path d="M116.36 724.3L121.66 733.4L111.06 733.4Z" fill="#1a476f"/>
<rect x="120.18" y="745.8" width="8.4" height="8.2" fill="#938dd2"/>
<rect x="111.84" y="765.3" width="8.4" height="8.2" fill="#938dd2"/>
<rect x="140.55" y="784.5" width="8.4" height="8.2" fill="#938dd2"/>
<text x="158.03" y="771.35" font-size="15.4" textLength="31.02" lengthAdjust="spacingAndGlyphs">28%</text>
<line x1="92.4" y1="566.05" x2="92.4" y2="797.9" stroke="#444" stroke-width="1.2"/>
<line x1="85.6" y1="594.45" x2="92.4" y2="594.45" stroke="#444" stroke-width="1.2"/>
<text x="83.4" y="599.3" font-size="15.4" text-anchor="end" textLength="32.08" lengthAdjust="spacingAndGlyphs">male</text>
<line x1="85.6" y1="613.4" x2="92.4" y2="613.4" stroke="#444" stroke-width="1.2"/>
<text x="83.4" y="618.25" font-size="15.4" text-anchor="end" textLength="44.42" lengthAdjust="spacingAndGlyphs">female</text>
<line x1="85.6" y1="633.3" x2="92.4" y2="633.3" stroke="#444" stroke-width="1.2"/>
<text x="83.4" y="638.15" font-size="15.4" text-anchor="end" textLength="29.61" lengthAdjust="spacingAndGlyphs">rural</text>
<line x1="85.6" y1="652.6" x2="92.4" y2="652.6" stroke="#444" stroke-width="1.2"/>
<text x="83.4" y="657.45" font-size="15.4" text-anchor="end" textLength="37.85" lengthAdjust="spacingAndGlyphs">urban</text>
<line x1="85.6" y1="672" x2="92.4" y2="672" stroke="#444" stroke-width="1.2"/>
<text x="83.4" y="676.85" font-size="15.4" text-anchor="end" textLength="45.23" lengthAdjust="spacingAndGlyphs">0-1 yrs</text>
<line x1="85.6" y1="691.4" x2="92.4" y2="691.4" stroke="#444" stroke-width="1.2"/>
<text x="83.4" y="696.25" font-size="15.4" text-anchor="end" textLength="45.23" lengthAdjust="spacingAndGlyphs">1-4 yrs</text>
<line x1="85.6" y1="711.4" x2="92.4" y2="711.4" stroke="#444" stroke-width="1.2"/>
<text x="83.4" y="716.25" font-size="15.4" text-anchor="end" textLength="45.23" lengthAdjust="spacingAndGlyphs">5-9 yrs</text>
<line x1="85.6" y1="730.3" x2="92.4" y2="730.3" stroke="#444" stroke-width="1.2"/>
<text x="83.4" y="735.15" font-size="15.4" text-anchor="end" textLength="61.69" lengthAdjust="spacingAndGlyphs">10-17 yrs</text>
<line x1="85.6" y1="749.9" x2="92.4" y2="749.9" stroke="#444" stroke-width="1.2"/>
<text x="83.4" y="754.75" font-size="15.4" text-anchor="end" textLength="22.21" lengthAdjust="spacingAndGlyphs">low</text>
<line x1="85.6" y1="769.4" x2="92.4" y2="769.4" stroke="#444" stroke-width="1.2"/>
<text x="83.4" y="774.25" font-size="15.4" text-anchor="end" textLength="52.64" lengthAdjust="spacingAndGlyphs">medium</text>
<line x1="85.6" y1="788.6" x2="92.4" y2="788.6" stroke="#444" stroke-width="1.2"/>
<text x="83.4" y="793.45" font-size="15.4" text-anchor="end" textLength="27.98" lengthAdjust="spacingAndGlyphs">high</text>
<rect x="235.6" y="544.15" width="127.2" height="21.9" fill="#d9e4ea"/>
<text x="299.2" y="558.45" font-size="17.1" text-anchor="middle" textLength="127.99" lengthAdjust="spacingAndGlyphs">spec. unmet need</text>
<line x1="235.6" y1="594.45" x2="362.8" y2="594.45" stroke="#e3eaef" stroke-width="1"/>
<line x1="235.6" y1="613.4" x2="362.8" y2="613.4" stroke="#e3eaef" stroke-width="1"/>
<line x1="235.6" y1="633.3" x2="362.8" y2="633.3" stroke="#e3eaef" stroke-width="1"/>
<line x1="235.6" y1="652.6" x2="362.8" y2="652.6" stroke="#e3eaef" stroke-width="1"/>
<line x1="235.6" y1="672" x2="362.8" y2="672" stroke="#e3eaef" stroke-width="1"/>
<line x1="235.6" y1="691.4" x2="362.8" y2="691.4" stroke="#e3eaef" stroke-width="1"/>
<line x1="235.6" y1="711.4" x2="362.8" y2="711.4" stroke="#e3eaef" stroke-width="1"/>
<line x1="235.6" y1="730.3" x2="362.8" y2="730.3" stroke="#e3eaef" stroke-width="1"/>
<line x1="235.6" y1="749.9" x2="362.8" y2="749.9" stroke="#e3eaef" stroke-width="1"/>
<line x1="235.6" y1="769.4" x2="362.8" y2="769.4" stroke="#e3eaef" stroke-width="1"/>
<line x1="235.6" y1="788.6" x2="362.8" y2="788.6" stroke="#e3eaef" stroke-width="1"/>
<line x1="288.24" y1="574.65" x2="288.24" y2="788.6" stroke="#e3eaef" stroke-width="1"/>
<line x1="309.91" y1="574.65" x2="309.91" y2="788.6" stroke="#e3eaef" stroke-width="1"/>
<line x1="331.58" y1="574.65" x2="331.58" y2="788.6" stroke="#e3eaef" stroke-width="1"/>
<line x1="353.25" y1="574.65" x2="353.25" y2="788.6" stroke="#e3eaef" stroke-width="1"/>
<line x1="258.99" y1="788.6" x2="258.99" y2="574.65" stroke="#c10534" stroke-width="1.5" stroke-dasharray="14.6 6.5"/>
<path d="M251.73 594.45H275.56M251.73 590.75V598.15M275.56 590.75V598.15" stroke="#c10534" stroke-width="1.5" fill="none"/>
<path d="M248.8 613.4H269.06M248.8 609.7V617.1M269.06 609.7V617.1" stroke="#c10534" stroke-width="1.5" fill="none"/>
<path d="M245.77 633.3H284.34M245.77 629.6V637M284.34 629.6V637" stroke="#e37e00" stroke-width="1.5" fill="none"/>
<path d="M252.16 652.6H268.74M252.16 648.9V656.3M268.74 648.9V656.3" stroke="#e37e00" stroke-width="1.5" fill="none"/>
<path d="M251.51 691.4H282.61M251.51 687.7V695.1M282.61 687.7V695.1" stroke="#90353b" stroke-width="1.5" fill="none"/>
<path d="M253.03 711.4H291.92M253.03 707.7V715.1M291.92 707.7V715.1" stroke="#90353b" stroke-width="1.5" fill="none"/>
<path d="M248.58 730.3H275.56M248.58 726.6V734M275.56 726.6V734" stroke="#90353b" stroke-width="1.5" fill="none"/>
<path d="M248.8 749.9H267.98M248.8 746.2V753.6M267.98 746.2V753.6" stroke="#cac27e" stroke-width="1.5" fill="none"/>
<path d="M252.16 769.4H296.37M252.16 765.7V773.1M296.37 765.7V773.1" stroke="#cac27e" stroke-width="1.5" fill="none"/>
<path d="M248.04 788.6H320.75M248.04 784.9V792.3M320.75 784.9V792.3" stroke="#cac27e" stroke-width="1.5" fill="none"/>
<path d="M259.96 588.95L265.46 594.45L259.96 599.95L254.46 594.45Z" fill="#6e8e84"/>
<path d="M254.87 607.9L260.37 613.4L254.87 618.9L249.37 613.4Z" fill="#6e8e84"/>
<circle cx="252.16" cy="633.3" r="4.4" fill="#55752f"/>
<circle cx="258.66" cy="652.6" r="4.4" fill="#55752f"/>
<path d="M261.48 685.4L266.78 694.5L256.18 694.5Z" fill="#1a476f"/>
<path d="M266.57 705.4L271.87 714.5L261.27 714.5Z" fill="#1a476f"/>
<path d="M256.17 724.3L261.47 733.4L250.87 733.4Z" fill="#1a476f"/>
<rect x="250.34" y="745.8" width="8.4" height="8.2" fill="#938dd2"/>
<rect x="262.15" y="765.3" width="8.4" height="8.2" fill="#938dd2"/>
<rect x="262.15" y="784.5" width="8.4" height="8.2" fill="#938dd2"/>
<text x="322.83" y="771.15" font-size="15.4" textLength="31.02" lengthAdjust="spacingAndGlyphs">13%</text>
<line x1="235.6" y1="797.7" x2="362.8" y2="797.7" stroke="#444" stroke-width="1.2"/>
<line x1="244.9" y1="797.7" x2="244.9" y2="804.7" stroke="#444" stroke-width="1.2"/>
<text x="244.9" y="816.7" font-size="15" text-anchor="middle">0</text>
<line x1="266.57" y1="797.7" x2="266.57" y2="804.7" stroke="#444" stroke-width="1.2"/>
<text x="266.57" y="816.7" font-size="15" text-anchor="middle">20</text>
<line x1="288.24" y1="797.7" x2="288.24" y2="804.7" stroke="#444" stroke-width="1.2"/>
<text x="288.24" y="816.7" font-size="15" text-anchor="middle">40</text>
<line x1="309.91" y1="797.7" x2="309.91" y2="804.7" stroke="#444" stroke-width="1.2"/>
<text x="309.91" y="816.7" font-size="15" text-anchor="middle">60</text>
<line x1="331.58" y1="797.7" x2="331.58" y2="804.7" stroke="#444" stroke-width="1.2"/>
<text x="331.58" y="816.7" font-size="15" text-anchor="middle">80</text>
<line x1="353.25" y1="797.7" x2="353.25" y2="804.7" stroke="#444" stroke-width="1.2"/>
<text x="353.25" y="816.7" font-size="15" text-anchor="middle">100</text>
<rect x="379.3" y="544.15" width="127.2" height="21.9" fill="#d9e4ea"/>
<text x="442.9" y="558.45" font-size="17.1" text-anchor="middle" textLength="91.27" lengthAdjust="spacingAndGlyphs">prescriptions</text>
<line x1="379.3" y1="594.45" x2="506.5" y2="594.45" stroke="#e3eaef" stroke-width="1"/>
<line x1="379.3" y1="613.4" x2="506.5" y2="613.4" stroke="#e3eaef" stroke-width="1"/>
<line x1="379.3" y1="633.3" x2="506.5" y2="633.3" stroke="#e3eaef" stroke-width="1"/>
<line x1="379.3" y1="652.6" x2="506.5" y2="652.6" stroke="#e3eaef" stroke-width="1"/>
<line x1="379.3" y1="672" x2="506.5" y2="672" stroke="#e3eaef" stroke-width="1"/>
<line x1="379.3" y1="691.4" x2="506.5" y2="691.4" stroke="#e3eaef" stroke-width="1"/>
<line x1="379.3" y1="711.4" x2="506.5" y2="711.4" stroke="#e3eaef" stroke-width="1"/>
<line x1="379.3" y1="730.3" x2="506.5" y2="730.3" stroke="#e3eaef" stroke-width="1"/>
<line x1="379.3" y1="749.9" x2="506.5" y2="749.9" stroke="#e3eaef" stroke-width="1"/>
<line x1="379.3" y1="769.4" x2="506.5" y2="769.4" stroke="#e3eaef" stroke-width="1"/>
<line x1="379.3" y1="788.6" x2="506.5" y2="788.6" stroke="#e3eaef" stroke-width="1"/>
<line x1="431.94" y1="574.65" x2="431.94" y2="788.6" stroke="#e3eaef" stroke-width="1"/>
<line x1="453.61" y1="574.65" x2="453.61" y2="788.6" stroke="#e3eaef" stroke-width="1"/>
<line x1="475.28" y1="574.65" x2="475.28" y2="788.6" stroke="#e3eaef" stroke-width="1"/>
<line x1="496.95" y1="574.65" x2="496.95" y2="788.6" stroke="#e3eaef" stroke-width="1"/>
<line x1="443.86" y1="788.6" x2="443.86" y2="574.65" stroke="#c10534" stroke-width="1.5" stroke-dasharray="14.6 6.5"/>
<path d="M425.44 594.45H458.05M425.44 590.75V598.15M458.05 590.75V598.15" stroke="#c10534" stroke-width="1.5" fill="none"/>
<path d="M423.49 613.4H455.24M423.49 609.7V617.1M455.24 609.7V617.1" stroke="#c10534" stroke-width="1.5" fill="none"/>
<path d="M432.7 633.3H481.35M432.7 629.6V637M481.35 629.6V637" stroke="#e37e00" stroke-width="1.5" fill="none"/>
<path d="M424.68 652.6H448.19M424.68 648.9V656.3M448.19 648.9V656.3" stroke="#e37e00" stroke-width="1.5" fill="none"/>
<path d="M433.35 672H487.52M433.35 668.3V675.7M487.52 668.3V675.7" stroke="#90353b" stroke-width="1.5" fill="none"/>
<path d="M438.44 691.4H476.69M438.44 687.7V695.1M476.69 687.7V695.1" stroke="#90353b" stroke-width="1.5" fill="none"/>
<path d="M420.67 711.4H465.85M420.67 707.7V715.1M465.85 707.7V715.1" stroke="#90353b" stroke-width="1.5" fill="none"/>
<path d="M401.71 730.3H435.08M401.71 726.6V734M435.08 726.6V734" stroke="#90353b" stroke-width="1.5" fill="none"/>
<path d="M435.3 749.9H465.75M435.3 746.2V753.6M465.75 746.2V753.6" stroke="#cac27e" stroke-width="1.5" fill="none"/>
<path d="M399.44 769.4H447.65M399.44 765.7V773.1M447.65 765.7V773.1" stroke="#cac27e" stroke-width="1.5" fill="none"/>
<path d="M399.44 788.6H476.26M399.44 784.9V792.3M476.26 784.9V792.3" stroke="#cac27e" stroke-width="1.5" fill="none"/>
<path d="M441.58 588.95L447.08 594.45L441.58 599.95L436.08 594.45Z" fill="#6e8e84"/>
<path d="M439.09 607.9L444.59 613.4L439.09 618.9L433.59 613.4Z" fill="#6e8e84"/>
<circle cx="460.87" cy="633.3" r="4.4" fill="#55752f"/>
<circle cx="436.06" cy="652.6" r="4.4" fill="#55752f"/>
<path d="M467.59 666L472.89 675.1L462.29 675.1Z" fill="#1a476f"/>
<path d="M459.35 685.4L464.65 694.5L454.05 694.5Z" fill="#1a476f"/>
<path d="M442.88 705.4L448.18 714.5L437.58 714.5Z" fill="#1a476f"/>
<path d="M415.04 724.3L420.34 733.4L409.74 733.4Z" fill="#1a476f"/>
<rect x="446.92" y="745.8" width="8.4" height="8.2" fill="#938dd2"/>
<rect x="413.65" y="765.3" width="8.4" height="8.2" fill="#938dd2"/>
<rect x="427.74" y="784.5" width="8.4" height="8.2" fill="#938dd2"/>
<text x="474.68" y="772.55" font-size="15.4" textLength="31.02" lengthAdjust="spacingAndGlyphs">51%</text>
<line x1="379.3" y1="797.7" x2="506.5" y2="797.7" stroke="#444" stroke-width="1.2"/>
<line x1="388.6" y1="797.7" x2="388.6" y2="804.7" stroke="#444" stroke-width="1.2"/>
<text x="388.6" y="816.7" font-size="15" text-anchor="middle">0</text>
<line x1="410.27" y1="797.7" x2="410.27" y2="804.7" stroke="#444" stroke-width="1.2"/>
<text x="410.27" y="816.7" font-size="15" text-anchor="middle">20</text>
<line x1="431.94" y1="797.7" x2="431.94" y2="804.7" stroke="#444" stroke-width="1.2"/>
<text x="431.94" y="816.7" font-size="15" text-anchor="middle">40</text>
<line x1="453.61" y1="797.7" x2="453.61" y2="804.7" stroke="#444" stroke-width="1.2"/>
<text x="453.61" y="816.7" font-size="15" text-anchor="middle">60</text>
<line x1="475.28" y1="797.7" x2="475.28" y2="804.7" stroke="#444" stroke-width="1.2"/>
<text x="475.28" y="816.7" font-size="15" text-anchor="middle">80</text>
<line x1="496.95" y1="797.7" x2="496.95" y2="804.7" stroke="#444" stroke-width="1.2"/>
<text x="496.95" y="816.7" font-size="15" text-anchor="middle">100</text>
<rect x="522.9" y="544.15" width="127.2" height="21.9" fill="#d9e4ea"/>
<text x="586.5" y="558.45" font-size="17.1" text-anchor="middle" textLength="111.84" lengthAdjust="spacingAndGlyphs">emergency visit</text>
<line x1="522.9" y1="594.45" x2="650.1" y2="594.45" stroke="#e3eaef" stroke-width="1"/>
<line x1="522.9" y1="613.4" x2="650.1" y2="613.4" stroke="#e3eaef" stroke-width="1"/>
<line x1="522.9" y1="633.3" x2="650.1" y2="633.3" stroke="#e3eaef" stroke-width="1"/>
<line x1="522.9" y1="652.6" x2="650.1" y2="652.6" stroke="#e3eaef" stroke-width="1"/>
<line x1="522.9" y1="672" x2="650.1" y2="672" stroke="#e3eaef" stroke-width="1"/>
<line x1="522.9" y1="691.4" x2="650.1" y2="691.4" stroke="#e3eaef" stroke-width="1"/>
<line x1="522.9" y1="711.4" x2="650.1" y2="711.4" stroke="#e3eaef" stroke-width="1"/>
<line x1="522.9" y1="730.3" x2="650.1" y2="730.3" stroke="#e3eaef" stroke-width="1"/>
<line x1="522.9" y1="749.9" x2="650.1" y2="749.9" stroke="#e3eaef" stroke-width="1"/>
<line x1="522.9" y1="769.4" x2="650.1" y2="769.4" stroke="#e3eaef" stroke-width="1"/>
<line x1="522.9" y1="788.6" x2="650.1" y2="788.6" stroke="#e3eaef" stroke-width="1"/>
<line x1="575.54" y1="574.65" x2="575.54" y2="788.6" stroke="#e3eaef" stroke-width="1"/>
<line x1="597.21" y1="574.65" x2="597.21" y2="788.6" stroke="#e3eaef" stroke-width="1"/>
<line x1="618.88" y1="574.65" x2="618.88" y2="788.6" stroke="#e3eaef" stroke-width="1"/>
<line x1="640.55" y1="574.65" x2="640.55" y2="788.6" stroke="#e3eaef" stroke-width="1"/>
<line x1="556.04" y1="788.6" x2="556.04" y2="574.65" stroke="#c10534" stroke-width="1.5" stroke-dasharray="14.6 6.5"/>
<path d="M542.93 594.45H568.28M542.93 590.75V598.15M568.28 590.75V598.15" stroke="#c10534" stroke-width="1.5" fill="none"/>
<path d="M544.44 613.4H571.21M544.44 609.7V617.1M571.21 609.7V617.1" stroke="#c10534" stroke-width="1.5" fill="none"/>
<path d="M535.88 633.3H576.95M535.88 629.6V637M576.95 629.6V637" stroke="#e37e00" stroke-width="1.5" fill="none"/>
<path d="M547.15 652.6H567.2M547.15 648.9V656.3M567.2 648.9V656.3" stroke="#e37e00" stroke-width="1.5" fill="none"/>
<path d="M537.18 672H588M537.18 668.3V675.7M588 668.3V675.7" stroke="#90353b" stroke-width="1.5" fill="none"/>
<path d="M550.08 691.4H587.46M550.08 687.7V695.1M587.46 687.7V695.1" stroke="#90353b" stroke-width="1.5" fill="none"/>
<path d="M535.34 711.4H567.85M535.34 707.7V715.1M567.85 707.7V715.1" stroke="#90353b" stroke-width="1.5" fill="none"/>
<path d="M540 730.3H571.31M540 726.6V734M571.31 726.6V734" stroke="#90353b" stroke-width="1.5" fill="none"/>
<path d="M543.79 749.9H568.28M543.79 746.2V753.6M568.28 746.2V753.6" stroke="#cac27e" stroke-width="1.5" fill="none"/>
<path d="M539.46 769.4H584.1M539.46 765.7V773.1M584.1 765.7V773.1" stroke="#cac27e" stroke-width="1.5" fill="none"/>
<path d="M552.35 588.95L557.85 594.45L552.35 599.95L546.85 594.45Z" fill="#6e8e84"/>
<path d="M555.17 607.9L560.67 613.4L555.17 618.9L549.67 613.4Z" fill="#6e8e84"/>
<circle cx="546.72" cy="633.3" r="4.4" fill="#55752f"/>
<circle cx="555.39" cy="652.6" r="4.4" fill="#55752f"/>
<path d="M552.03 666L557.33 675.1L546.73 675.1Z" fill="#1a476f"/>
<path d="M565.68 685.4L570.98 694.5L560.38 694.5Z" fill="#1a476f"/>
<path d="M543.25 705.4L548.55 714.5L537.95 714.5Z" fill="#1a476f"/>
<path d="M550.94 724.3L556.24 733.4L545.64 733.4Z" fill="#1a476f"/>
<rect x="548.48" y="745.8" width="8.4" height="8.2" fill="#938dd2"/>
<rect x="550.1" y="765.3" width="8.4" height="8.2" fill="#938dd2"/>
<rect x="528.22" y="784.5" width="8.4" height="8.2" fill="#938dd2"/>
<text x="597.13" y="771.95" font-size="15.4" textLength="31.02" lengthAdjust="spacingAndGlyphs">22%</text>
<line x1="522.9" y1="797.7" x2="650.1" y2="797.7" stroke="#444" stroke-width="1.2"/>
<line x1="532.2" y1="797.7" x2="532.2" y2="804.7" stroke="#444" stroke-width="1.2"/>
<text x="532.2" y="816.7" font-size="15" text-anchor="middle">0</text>
<line x1="553.87" y1="797.7" x2="553.87" y2="804.7" stroke="#444" stroke-width="1.2"/>
<text x="553.87" y="816.7" font-size="15" text-anchor="middle">20</text>
<line x1="575.54" y1="797.7" x2="575.54" y2="804.7" stroke="#444" stroke-width="1.2"/>
<text x="575.54" y="816.7" font-size="15" text-anchor="middle">40</text>
<line x1="597.21" y1="797.7" x2="597.21" y2="804.7" stroke="#444" stroke-width="1.2"/>
<text x="597.21" y="816.7" font-size="15" text-anchor="middle">60</text>
<line x1="618.88" y1="797.7" x2="618.88" y2="804.7" stroke="#444" stroke-width="1.2"/>
<text x="618.88" y="816.7" font-size="15" text-anchor="middle">80</text>
<line x1="640.55" y1="797.7" x2="640.55" y2="804.7" stroke="#444" stroke-width="1.2"/>
<text x="640.55" y="816.7" font-size="15" text-anchor="middle">100</text>
<rect x="92" y="841" width="127.2" height="21.9" fill="#d9e4ea"/>
<text x="155.6" y="855.3" font-size="17.1" text-anchor="middle" textLength="87.69" lengthAdjust="spacingAndGlyphs">hospital visit</text>
<line x1="92" y1="891.3" x2="219.2" y2="891.3" stroke="#e3eaef" stroke-width="1"/>
<line x1="92" y1="911.3" x2="219.2" y2="911.3" stroke="#e3eaef" stroke-width="1"/>
<line x1="92" y1="930.3" x2="219.2" y2="930.3" stroke="#e3eaef" stroke-width="1"/>
<line x1="92" y1="949.6" x2="219.2" y2="949.6" stroke="#e3eaef" stroke-width="1"/>
<line x1="92" y1="968.7" x2="219.2" y2="968.7" stroke="#e3eaef" stroke-width="1"/>
<line x1="92" y1="988.3" x2="219.2" y2="988.3" stroke="#e3eaef" stroke-width="1"/>
<line x1="92" y1="1008.2" x2="219.2" y2="1008.2" stroke="#e3eaef" stroke-width="1"/>
<line x1="92" y1="1027.3" x2="219.2" y2="1027.3" stroke="#e3eaef" stroke-width="1"/>
<line x1="92" y1="1046.9" x2="219.2" y2="1046.9" stroke="#e3eaef" stroke-width="1"/>
<line x1="92" y1="1066.3" x2="219.2" y2="1066.3" stroke="#e3eaef" stroke-width="1"/>
<line x1="92" y1="1085.6" x2="219.2" y2="1085.6" stroke="#e3eaef" stroke-width="1"/>
<line x1="144.64" y1="871.5" x2="144.64" y2="1085.6" stroke="#e3eaef" stroke-width="1"/>
<line x1="166.31" y1="871.5" x2="166.31" y2="1085.6" stroke="#e3eaef" stroke-width="1"/>
<line x1="187.98" y1="871.5" x2="187.98" y2="1085.6" stroke="#e3eaef" stroke-width="1"/>
<line x1="209.65" y1="871.5" x2="209.65" y2="1085.6" stroke="#e3eaef" stroke-width="1"/>
<line x1="121.89" y1="1085.6" x2="121.89" y2="871.5" stroke="#c10534" stroke-width="1.5" stroke-dasharray="14.6 6.5"/>
<path d="M115.06 891.3H142.8M115.06 887.6V895M142.8 887.6V895" stroke="#c10534" stroke-width="1.5" fill="none"/>
<path d="M105.2 911.3H125.9M105.2 907.6V915M125.9 907.6V915" stroke="#c10534" stroke-width="1.5" fill="none"/>
<path d="M108.23 930.3H152.66M108.23 926.6V934M152.66 926.6V934" stroke="#e37e00" stroke-width="1.5" fill="none"/>
<path d="M113 949.6H131.42M113 945.9V953.3M131.42 945.9V953.3" stroke="#e37e00" stroke-width="1.5" fill="none"/>
<path d="M110.94 968.7H165.55M110.94 965V972.4M165.55 965V972.4" stroke="#90353b" stroke-width="1.5" fill="none"/>
<path d="M110.08 988.3H143.56M110.08 984.6V992M143.56 984.6V992" stroke="#90353b" stroke-width="1.5" fill="none"/>
<path d="M103.9 1008.2H137.06M103.9 1004.5V1011.9M137.06 1004.5V1011.9" stroke="#90353b" stroke-width="1.5" fill="none"/>
<path d="M106.72 1027.3H135.54M106.72 1023.6V1031M135.54 1023.6V1031" stroke="#90353b" stroke-width="1.5" fill="none"/>
<path d="M110.94 1046.9H134.78M110.94 1043.2V1050.6M134.78 1043.2V1050.6" stroke="#cac27e" stroke-width="1.5" fill="none"/>
<path d="M104.77 1066.3H146.37M104.77 1062.6V1070M146.37 1062.6V1070" stroke="#cac27e" stroke-width="1.5" fill="none"/>
<path d="M126.44 885.8L131.94 891.3L126.44 896.8L120.94 891.3Z" fill="#6e8e84"/>
<path d="M111.27 905.8L116.77 911.3L111.27 916.8L105.77 911.3Z" fill="#6e8e84"/>
<circle cx="122.64" cy="930.3" r="4.4" fill="#55752f"/>
<circle cx="120.37" cy="949.6" r="4.4" fill="#55752f"/>
<path d="M130.77 962.7L136.07 971.8L125.47 971.8Z" fill="#1a476f"/>
<path d="M122.1 982.3L127.4 991.4L116.8 991.4Z" fill="#1a476f"/>
<path d="M112.24 1002.2L117.54 1011.3L106.94 1011.3Z" fill="#1a476f"/>
<path d="M116.36 1021.3L121.66 1030.4L111.06 1030.4Z" fill="#1a476f"/>
<rect x="115.84" y="1042.8" width="8.4" height="8.2" fill="#938dd2"/>
<rect x="111.84" y="1062.2" width="8.4" height="8.2" fill="#938dd2"/>
<text x="161.03" y="1070.75" font-size="15.4" textLength="31.02" lengthAdjust="spacingAndGlyphs">19%</text>
<line x1="92.4" y1="862.9" x2="92.4" y2="1094.9" stroke="#444" stroke-width="1.2"/>
<line x1="85.6" y1="891.3" x2="92.4" y2="891.3" stroke="#444" stroke-width="1.2"/>
<text x="83.4" y="896.15" font-size="15.4" text-anchor="end" textLength="32.08" lengthAdjust="spacingAndGlyphs">male</text>
<line x1="85.6" y1="911.3" x2="92.4" y2="911.3" stroke="#444" stroke-width="1.2"/>
<text x="83.4" y="916.15" font-size="15.4" text-anchor="end" textLength="44.42" lengthAdjust="spacingAndGlyphs">female</text>
<line x1="85.6" y1="930.3" x2="92.4" y2="930.3" stroke="#444" stroke-width="1.2"/>
<text x="83.4" y="935.15" font-size="15.4" text-anchor="end" textLength="29.61" lengthAdjust="spacingAndGlyphs">rural</text>
<line x1="85.6" y1="949.6" x2="92.4" y2="949.6" stroke="#444" stroke-width="1.2"/>
<text x="83.4" y="954.45" font-size="15.4" text-anchor="end" textLength="37.85" lengthAdjust="spacingAndGlyphs">urban</text>
<line x1="85.6" y1="968.7" x2="92.4" y2="968.7" stroke="#444" stroke-width="1.2"/>
<text x="83.4" y="973.55" font-size="15.4" text-anchor="end" textLength="45.23" lengthAdjust="spacingAndGlyphs">0-1 yrs</text>
<line x1="85.6" y1="988.3" x2="92.4" y2="988.3" stroke="#444" stroke-width="1.2"/>
<text x="83.4" y="993.15" font-size="15.4" text-anchor="end" textLength="45.23" lengthAdjust="spacingAndGlyphs">1-4 yrs</text>
<line x1="85.6" y1="1008.2" x2="92.4" y2="1008.2" stroke="#444" stroke-width="1.2"/>
<text x="83.4" y="1013.05" font-size="15.4" text-anchor="end" textLength="45.23" lengthAdjust="spacingAndGlyphs">5-9 yrs</text>
<line x1="85.6" y1="1027.3" x2="92.4" y2="1027.3" stroke="#444" stroke-width="1.2"/>
<text x="83.4" y="1032.15" font-size="15.4" text-anchor="end" textLength="61.69" lengthAdjust="spacingAndGlyphs">10-17 yrs</text>
<line x1="85.6" y1="1046.9" x2="92.4" y2="1046.9" stroke="#444" stroke-width="1.2"/>
<text x="83.4" y="1051.75" font-size="15.4" text-anchor="end" textLength="22.21" lengthAdjust="spacingAndGlyphs">low</text>
<line x1="85.6" y1="1066.3" x2="92.4" y2="1066.3" stroke="#444" stroke-width="1.2"/>
<text x="83.4" y="1071.15" font-size="15.4" text-anchor="end" textLength="52.64" lengthAdjust="spacingAndGlyphs">medium</text>
<line x1="85.6" y1="1085.6" x2="92.4" y2="1085.6" stroke="#444" stroke-width="1.2"/>
<text x="83.4" y="1090.45" font-size="15.4" text-anchor="end" textLength="27.98" lengthAdjust="spacingAndGlyphs">high</text>
<line x1="92.4" y1="1095.3" x2="219.2" y2="1095.3" stroke="#444" stroke-width="1.2"/>
<line x1="101.3" y1="1095.3" x2="101.3" y2="1102.3" stroke="#444" stroke-width="1.2"/>
<text x="101.7" y="1114.3" font-size="15" text-anchor="middle">0</text>
<line x1="122.97" y1="1095.3" x2="122.97" y2="1102.3" stroke="#444" stroke-width="1.2"/>
<text x="123.2" y="1114.3" font-size="15" text-anchor="middle">20</text>
<line x1="144.64" y1="1095.3" x2="144.64" y2="1102.3" stroke="#444" stroke-width="1.2"/>
<text x="144.4" y="1114.3" font-size="15" text-anchor="middle">40</text>
<line x1="166.31" y1="1095.3" x2="166.31" y2="1102.3" stroke="#444" stroke-width="1.2"/>
<text x="166.2" y="1114.3" font-size="15" text-anchor="middle">60</text>
<line x1="187.98" y1="1095.3" x2="187.98" y2="1102.3" stroke="#444" stroke-width="1.2"/>
<text x="190.3" y="1114.3" font-size="15" text-anchor="middle">80</text>
<line x1="209.65" y1="1095.3" x2="209.65" y2="1102.3" stroke="#444" stroke-width="1.2"/>
<text x="214.4" y="1114.3" font-size="15" text-anchor="middle">100</text>
<text x="332.2" y="1146.5" font-size="24" text-anchor="middle">%</text>
<rect x="3.9" y="1156.7" width="676.5" height="55.7" fill="#fbfcfd"/>
<line x1="680.4" y1="1156.7" x2="680.4" y2="1212.4" stroke="#eef2f5" stroke-width="1"/>
<rect x="14.7" y="1164.7" width="654.9" height="42.8" fill="none" stroke="#000" stroke-width="2.6"/>
<path d="M36.4 1179.8L42.9 1186.3L36.4 1192.8L29.9 1186.3Z" fill="#6e8e84"/>
<text x="48.7" y="1191.3" font-size="19">sex</text>
<circle cx="107.4" cy="1186.6" r="4.8" fill="#55752f"/>
<text x="121.3" y="1191.3" font-size="19">region</text>
<path d="M203.8 1180L210.4 1190.8L197.2 1190.8Z" fill="#1a476f"/>
<text x="216.3" y="1191.3" font-size="19">age</text>
<rect x="266.2" y="1180.6" width="10.4" height="10.6" fill="#938dd2"/>
<text x="284.8" y="1191.3" font-size="19">subjective social status</text>
<line x1="514" y1="1179.8" x2="514" y2="1195.2" stroke="#e1e8ee" stroke-width="1.2"/>
<path d="M490.1 1187.1H507.8M515.9 1187.1H533" stroke="#c10534" stroke-width="2.4"/>
<text x="540.2" y="1191.3" font-size="19">average value</text>
<text x="9" y="1238.6" font-size="19.6" textLength="668.6" lengthAdjust="spacing">GP: General practitioner. SDQ: Strength and Difficulties Questionnaire.</text>
</svg>
</body></html>
